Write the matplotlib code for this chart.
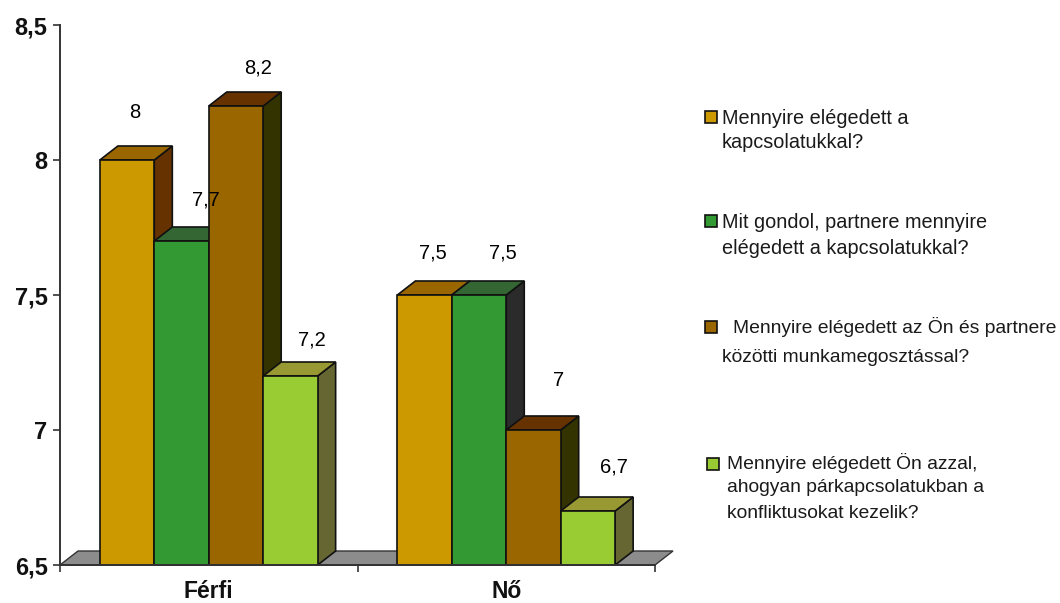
import matplotlib
matplotlib.use('Agg')
import matplotlib.pyplot as plt
from matplotlib.patches import Polygon, Rectangle

plt.rcParams['font.family'] = ['Liberation Sans', 'DejaVu Sans']

# data
categories = ['Férfi', 'Nő']
q1 = [8, 7.5]
q2 = [7.7, 7.5]
q3 = [8.2, 7]
q4 = [7.2, 6.7]
series = [q1, q2, q3, q4]
y_ticks = [6.5, 7, 7.5, 8, 8.5]
y_tick_labels = ['6,5', '7', '7,5', '8', '8,5']

legend_lines = [
    ['Mennyire elégedett a', 'kapcsolatukkal?'],
    ['Mit gondol, partnere mennyire', 'elégedett a kapcsolatukkal?'],
    ['Mennyire elégedett az Ön és partnere', 'közötti munkamegosztással?'],
    ['Mennyire elégedett Ön azzal,', 'ahogyan párkapcsolatukban a', 'konfliktusokat kezelik?'],
]

# colours for front, top and side of the bars
front = ['#CC9900', '#339933', '#996600', '#99CC33']
top = ['#996600', '#336633', '#663300', '#999933']
side = [['#663300', '#2B2B2B'], ['#663300', '#2B2B2B'], ['#333300', '#333300'], ['#666633', '#666633']]

W, H = 1060, 603
fig = plt.figure(figsize=(W / 100, H / 100), dpi=100)
ax = fig.add_axes([60 / W, 1 - 565 / H, 595 / W, 540 / H])
ax.set_xlim(0, 2)
ax.set_ylim(6.5, 8.5)

# depth of the fake 3d, in data units
dx = 18 / 595 * 2
dy = 14 / 540 * 2
bar_w = 0.183


def box(x, val, c_front, c_top, c_side, z):
    ax.add_patch(Polygon([(x + bar_w, 6.5), (x + bar_w + dx, 6.5 + dy), (x + bar_w + dx, val + dy), (x + bar_w, val)],
                         fc=c_side, ec='#111111', lw=1.2, zorder=z, clip_on=False))
    ax.add_patch(Polygon([(x, val), (x + dx, val + dy), (x + bar_w + dx, val + dy), (x + bar_w, val)],
                         fc=c_top, ec='#111111', lw=1.2, zorder=z, clip_on=False))
    ax.add_patch(Rectangle((x, 6.5), bar_w, val - 6.5, fc=c_front, ec='#111111', lw=1.2, zorder=z, clip_on=False))


# grey floor
ax.add_patch(Polygon([(0, 6.5), (dx, 6.5 + dy), (2 + dx, 6.5 + dy), (2, 6.5)],
                     fc='#8C8C8C', ec='#333333', lw=1.0, zorder=1, clip_on=False))

# label nudges in pixels, hand placed in the original chart
label_dx = [[8, 8], [24, 24], [22, 25], [21, 26]]
label_dy = [[47, 42], [41, 42], [38, 49], [36, 44]]

z = 2
for g in range(len(categories)):
    for s in range(len(series)):
        val = series[s][g]
        x = g + 0.5 - 2 * bar_w + s * bar_w
        box(x, val, front[s], top[s], side[s][g], z)
        z += 1
for g in range(len(categories)):
    for s in range(len(series)):
        val = series[s][g]
        x = g + 0.5 - 2 * bar_w + s * bar_w
        txt = str(val).replace('.', ',')
        ax.annotate(txt, (x + bar_w / 2, val), xytext=(label_dx[s][g], label_dy[s][g]),
                    textcoords='offset pixels', ha='center', va='center',
                    fontsize=14.5, color='#000000', zorder=50, annotation_clip=False)

for sp in ['top', 'right']:
    ax.spines[sp].set_visible(False)
for sp in ['left', 'bottom']:
    ax.spines[sp].set_linewidth(1.4)
    ax.spines[sp].set_color('#333333')
    ax.spines[sp].set_zorder(40)
ax.set_yticks(y_ticks)
ax.set_yticklabels(y_tick_labels, fontsize=17, fontweight='bold', color='#111111')
ax.tick_params(axis='y', length=5, width=1.2, color='#333333', pad=4)
ax.set_xticks([0, 1, 2])
ax.set_xticklabels([])
ax.tick_params(axis='x', length=5, width=1.2, color='#333333')
for g, name in enumerate(categories):
    ax.text(g + 0.5, 6.5 - 27 / 270, name, ha='center', va='center', fontsize=16.5,
            fontweight='bold', color='#111111')

# hand made legend, the original has uneven spacing
swatch_x = [705, 705, 705, 707]
swatch_y = [111, 215, 321, 458]
first_x = [722, 722, 733, 727]
rest_x = [722, 722, 722, 727]
line_y = [[118, 143], [222, 248], [327, 358], [463, 488, 513]]
legend_size = [14.3, 14.3, 13.9, 13.9]
for i, lines in enumerate(legend_lines):
    fig.add_artist(Rectangle((swatch_x[i] / W, 1 - (swatch_y[i] + 12) / H), 12 / W, 12 / H, fc=front[i],
                             ec='#111111', lw=1.2, transform=fig.transFigure))
    for j, line in enumerate(lines):
        lx = first_x[i] if j == 0 else rest_x[i]
        fig.text(lx / W, 1 - line_y[i][j] / H, line, ha='left', va='center', fontsize=legend_size[i],
                 color='#1A1A1A')

fig.savefig('out.png', dpi=100)
